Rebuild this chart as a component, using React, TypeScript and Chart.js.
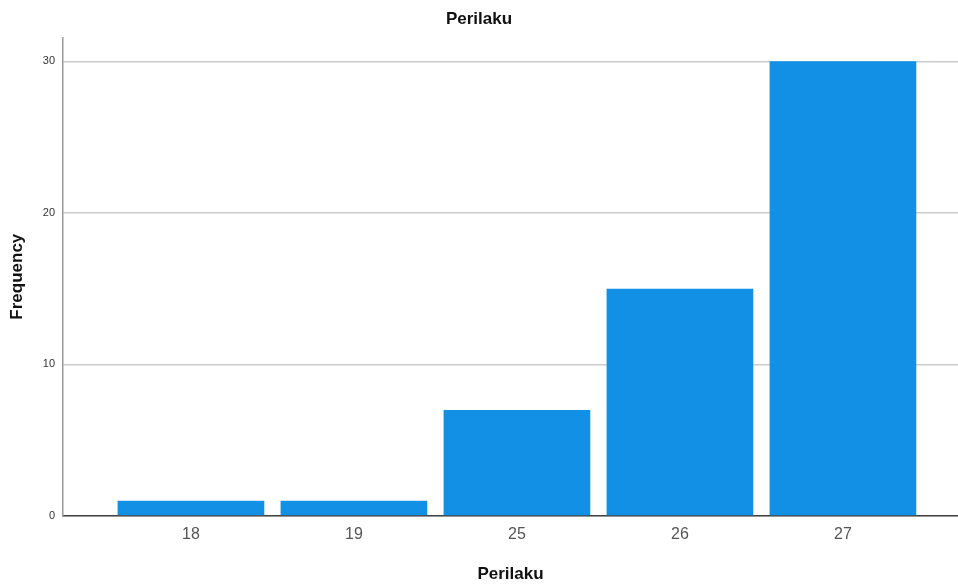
import React, { useEffect, useRef } from "react";
import { Chart, registerables } from "chart.js";

Chart.register(...registerables);

const categories = ["18", "19", "25", "26", "27"];
const frequencies = [1, 1, 7, 15, 30];
const yTicks = [0, 10, 20, 30];

export default function App() {
  const ref = useRef<HTMLCanvasElement | null>(null);

  useEffect(() => {
    if (!ref.current) return;
    const chart = new Chart(ref.current, {
      type: "bar",
      data: {
        datasets: [
          {
            label: "Frequency",
            data: frequencies.map((v, i) => ({ x: i, y: v })),
            backgroundColor: "#1190e5",
            borderWidth: 0,
            barPercentage: 0.9,
            categoryPercentage: 1,
          },
        ],
      },
      options: {
        animation: false,
        responsive: false,
        maintainAspectRatio: false,
        layout: { padding: 0 },
        plugins: {
          legend: { display: false },
          tooltip: { enabled: false },
          title: {
            display: true,
            text: "Perilaku",
            color: "#111",
            font: { family: "Liberation Sans, Arial, sans-serif", size: 17, weight: "bold" },
            padding: { top: 9, bottom: 8 },
          },
        },
        scales: {
          x: {
            type: "linear",
            offset: false,
            min: -0.785,
            max: 4.706,
            afterBuildTicks: (scale: any) => {
              scale.ticks = categories.map((_, i) => ({ value: i }));
            },
            afterFit: (scale: any) => {
              scale.height = 69;
            },
            grid: { display: false, drawTicks: false, offset: false },
            border: { display: true, color: "#444", width: 1.5 },
            ticks: {
              color: "#555",
              padding: 9,
              font: { family: "Liberation Sans, Arial, sans-serif", size: 16 },
              callback: (v: any) => categories[v] ?? "",
            },
            title: {
              display: true,
              text: "Perilaku",
              color: "#111",
              padding: { top: 0, bottom: 0 },
              font: { family: "Liberation Sans, Arial, sans-serif", size: 17, weight: "bold" },
            },
          },
          y: {
            type: "linear",
            min: 0,
            max: 31.58,
            afterBuildTicks: (scale: any) => {
              scale.ticks = yTicks.map((v) => ({ value: v }));
            },
            afterFit: (scale: any) => {
              scale.width = 63;
            },
            grid: { color: "#cccccc", lineWidth: 1.5, drawTicks: false },
            border: { display: true, color: "#999", width: 1.5 },
            ticks: {
              color: "#333",
              padding: 8,
              font: { family: "Liberation Sans, Arial, sans-serif", size: 11 },
            },
            title: {
              display: true,
              text: "Frequency",
              color: "#111",
              padding: { top: 7, bottom: 0 },
              font: { family: "Liberation Sans, Arial, sans-serif", size: 17, weight: "bold" },
            },
          },
        },
      },
    });
    return () => chart.destroy();
  }, []);

  return (
    <div style={{ position: "fixed", left: 0, top: 0, width: 958, height: 585, background: "#fff" }}>
      <canvas ref={ref} width={958} height={585} style={{ width: 958, height: 585, display: "block" }} />
    </div>
  );
}
